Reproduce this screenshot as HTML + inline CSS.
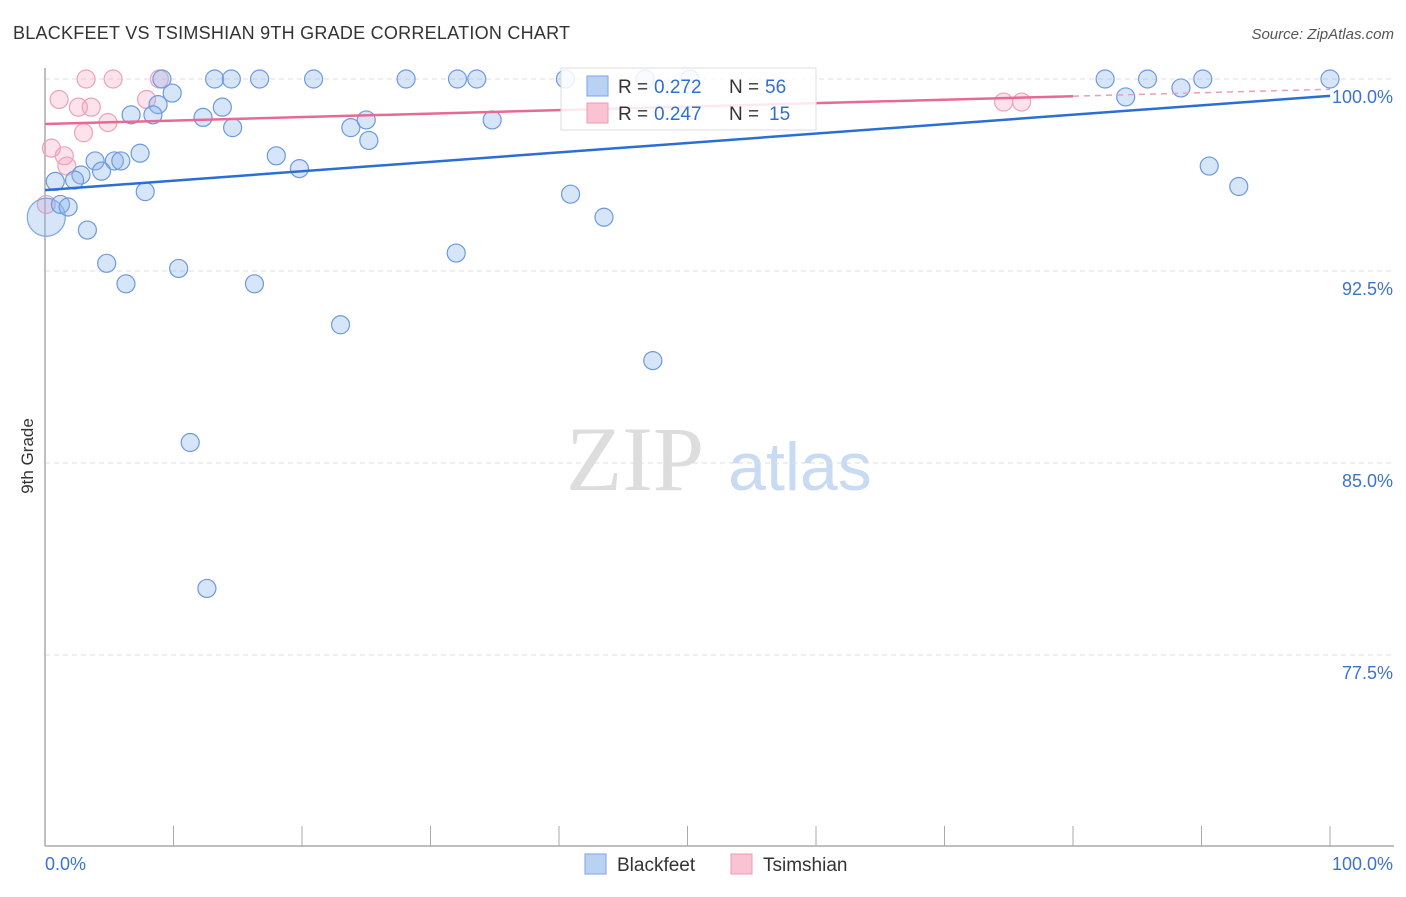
<!DOCTYPE html>
<html><head><meta charset="utf-8"><style>
body{margin:0;background:#fff;font-family:"Liberation Sans",sans-serif;}
</style></head><body>
<svg id="chart" width="1406" height="892" xmlns="http://www.w3.org/2000/svg" font-family="Liberation Sans, sans-serif">
<text x="13" y="39" font-size="18" fill="#333" textLength="557">BLACKFEET VS TSIMSHIAN 9TH GRADE CORRELATION CHART</text>
<text x="1394" y="39" font-size="15" fill="#555" text-anchor="end" font-style="italic">Source: ZipAtlas.com</text>
<text transform="translate(33,456) rotate(-90)" font-size="17" fill="#333" text-anchor="middle">9th Grade</text>
<g>
<text x="635" y="490" font-size="92" fill="#ddd" text-anchor="middle" style="font-family:'Liberation Serif',serif">ZIP</text>
<text x="800" y="490" font-size="68" fill="#c9dbf2" text-anchor="middle">atlas</text>
</g>
<g id="grid"></g><g id="axes"></g><g id="marks"></g>
<g>
<rect x="561" y="68" width="255" height="62" fill="#fff" fill-opacity="0.85" stroke="#ddd"/>
<rect x="587" y="76" width="21" height="20" fill="#b9d1f3" stroke="#7aa6e0"/>
<text x="618" y="93" font-size="19" fill="#333">R = </text><text x="654" y="93" font-size="19" fill="#2f6fd0">0.272</text>
<text x="729" y="93" font-size="19" fill="#333">N = </text><text x="765" y="93" font-size="19" fill="#2f6fd0">56</text>
<rect x="587" y="103" width="21" height="20" fill="#f9c3d3" stroke="#eb9ab4"/>
<text x="618" y="120" font-size="19" fill="#333">R = </text><text x="654" y="120" font-size="19" fill="#2f6fd0">0.247</text>
<text x="729" y="120" font-size="19" fill="#333">N = </text><text x="769" y="120" font-size="19" fill="#2f6fd0">15</text>
</g>
<g>
<rect x="585" y="854" width="21" height="20" fill="#b9d1f3" stroke="#7aa6e0"/>
<text x="617" y="871" font-size="19" fill="#333">Blackfeet</text>
<rect x="731" y="854" width="21" height="20" fill="#f9c3d3" stroke="#eb9ab4"/>
<text x="763" y="871" font-size="19" fill="#333">Tsimshian</text>
</g>
</svg>
<script>
const blueX=[9.1,13.2,14.5,16.7,20.9,28.1,32.1,33.6,40.5,46.7,50.2,82.5,85.8,90.1,100,9.9,8.8,13.8,6.7,8.4,12.3,14.6,23.8,25.0,34.8,25.2,7.4,18.0,3.9,5.4,5.9,4.4,19.8,2.8,2.3,0.8,7.8,40.9,1.2,1.8,43.5,3.3,32.0,4.8,10.4,6.3,16.3,23.0,47.3,11.3,12.6,84.1,88.4,90.6,92.9];
const blueY=[100,100,100,100,100,100,100,100,100,100,100,100,100,100,100,99.45,99.0,98.9,98.6,98.6,98.5,98.1,98.1,98.4,98.4,97.6,97.1,97.0,96.8,96.8,96.8,96.4,96.5,96.25,96.05,96.0,95.6,95.5,95.1,95.0,94.6,94.1,93.2,92.8,92.6,92.0,92.0,90.4,89.0,85.8,80.1,99.3,99.65,96.6,95.8];
const bigX=[0.1], bigY=[94.6];
const pinkX=[3.2,5.3,8.9,1.1,2.6,3.6,7.9,4.9,3.0,0.5,1.5,1.7,0.1,74.6,76.0];
const pinkY=[100,100,100,99.2,98.9,98.9,99.2,98.3,97.9,97.3,97.0,96.6,95.1,99.1,99.1];
const blueTrend=[95.66,99.34];
const pinkTrend=[98.24,99.6];
const yTicks=[100,92.5,85,77.5];
const yTickLabels=["100.0%","92.5%","85.0%","77.5%"];
const xTicks=[0,10,20,30,40,50,60,70,80,90,100];
const NS="http://www.w3.org/2000/svg";
const sx=v=>45+v*12.85, sy=v=>79+(100-v)*25.6;
function mk(t,a,p){const e=document.createElementNS(NS,t);for(const k in a)e.setAttribute(k,a[k]);p.appendChild(e);return e;}
const grid=document.getElementById('grid'),axes=document.getElementById('axes'),marks=document.getElementById('marks');
yTicks.forEach((v,i)=>{
 const l=mk('line',{x1:45,x2:1394,y1:sy(v),y2:sy(v),stroke:'#ddd','stroke-dasharray':'5,4'},grid);
 
 
 const t=mk('text',{x:1393,y:sy(v)+24,'font-size':18,fill:'#3b73cf','text-anchor':'end'},axes);
 t.textContent=yTickLabels[i];
 
 
});
const ya=mk('line',{x1:45,x2:45,y1:68,y2:846,stroke:'#aaa','stroke-width':1.5},axes);


const xa=mk('line',{x1:45,x2:1394,y1:846,y2:846,stroke:'#aaa','stroke-width':1.5},axes);


xTicks.forEach(v=>{
 const t=mk('line',{x1:sx(v),x2:sx(v),y1:826,y2:846,stroke:'#aaa'},axes);
 
 
});
const x0=mk('text',{x:45,y:870,'font-size':18,fill:'#3b73cf'},axes);x0.textContent='0.0%';


const x1=mk('text',{x:1393,y:870,'font-size':18,fill:'#3b73cf','text-anchor':'end'},axes);x1.textContent='100.0%';


pinkX.forEach((v,i)=>{
 const c=mk('circle',{cx:sx(v),cy:sy(pinkY[i]),r:9,fill:'rgba(244,160,188,0.3)',stroke:'#eba2ba','stroke-width':1.2},marks);
 
 
});
bigX.forEach((v,i)=>{
 const c=mk('circle',{cx:sx(v),cy:sy(bigY[i]),r:19,fill:'rgba(140,180,235,0.35)',stroke:'#7aa6e0','stroke-width':1.2},marks);
 
 
});
blueX.forEach((v,i)=>{
 const c=mk('circle',{cx:sx(v),cy:sy(blueY[i]),r:9,fill:'rgba(140,180,235,0.35)',stroke:'#6b9ade','stroke-width':1.2},marks);
 
 
});
const bt=mk('line',{x1:sx(0),y1:sy(blueTrend[0]),x2:sx(100),y2:sy(blueTrend[1]),stroke:'#2a6fd4','stroke-width':2.5},marks);


const pm=pinkTrend[0]+(pinkTrend[1]-pinkTrend[0])*0.8;
const pt=mk('line',{x1:sx(0),y1:sy(pinkTrend[0]),x2:sx(80),y2:sy(pm),stroke:'#e86a93','stroke-width':2.5},marks);


const pd=mk('line',{x1:sx(80),y1:sy(pm),x2:sx(100),y2:sy(pinkTrend[1]),stroke:'#e8a0b8','stroke-width':1.5,'stroke-dasharray':'6,5'},marks);


</script>
</body></html>
